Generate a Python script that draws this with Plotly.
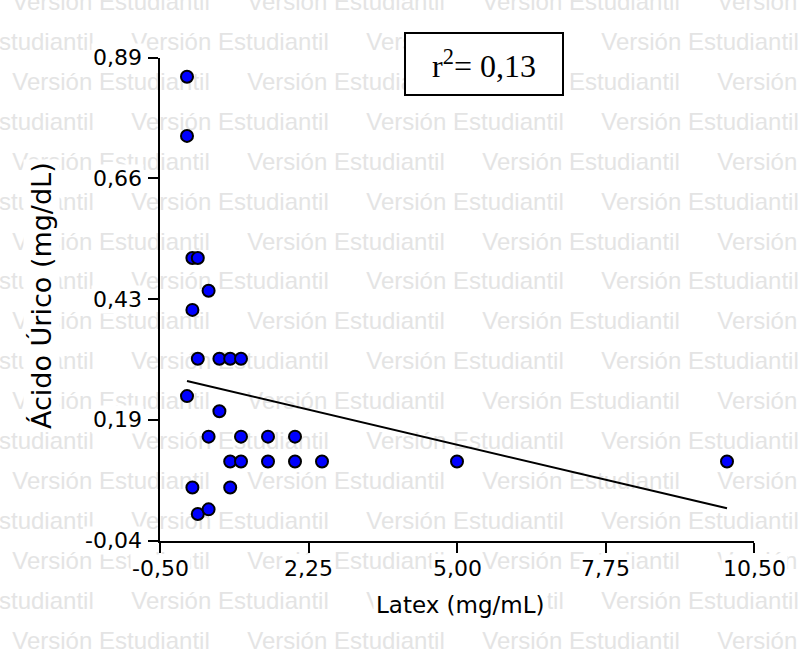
import plotly.graph_objects as go

W, H = 798, 653

# puntos (Latex mg/mL, Ácido Úrico mg/dL)
latex = [0.0, 0.0, 0.1, 0.2, 0.4, 0.1, 0.2, 0.6, 0.8, 1.0, 0.0, 0.6, 0.4, 1.0,
         1.5, 2.0, 0.8, 1.0, 1.5, 2.0, 2.5, 5.0, 10.0, 0.1, 0.8, 0.2, 0.4]
acido_urico = [0.853, 0.739, 0.504, 0.504, 0.441, 0.404, 0.31, 0.31, 0.31, 0.31,
               0.238, 0.209, 0.16, 0.16, 0.16, 0.16, 0.112, 0.112, 0.112, 0.112,
               0.112, 0.112, 0.112, 0.062, 0.062, 0.011, 0.02]

# recta de regresión (extremos)
fit_x = [0.0, 10.0]
fit_y = [0.267, 0.022]

x_tickvals = [-0.5, 2.25, 5.0, 7.75, 10.5]
x_ticktext = ["-0,50", "2,25", "5,00", "7,75", "10,50"]
y_tickvals = [-0.04, 0.1925, 0.425, 0.6575, 0.89]
y_ticktext = ["-0,04", "0,19", "0,43", "0,66", "0,89"]

r2_text = "r<sup>2</sup>= 0,13"
x_title = "Latex (mg/mL)"
y_title = "Ácido Úrico (mg/dL)"
watermark = "Versión Estudiantil"

FONT = "DejaVu Sans, Arial, sans-serif"
WM_FONT = "Liberation Sans, Arial, sans-serif"

# plot area in page pixels
X0, X1 = 160, 754
Y_TOP, Y_BOT = 57.5, 540.5

fig = go.Figure()

# watermark grid on a full-page pixel axis (drawn below the data subplot)
wm_x, wm_y = [], []
for k in range(17):
    y = 4.1 + 39.9 * k
    start = 12 if k % 2 == 0 else -104
    for j in range(5):
        wm_x.append(start + 235 * j + 99)
        wm_y.append(y)
fig.add_trace(go.Scatter(
    x=wm_x, y=wm_y, mode="text", text=[watermark] * len(wm_x),
    textposition="middle center",
    textfont=dict(family=WM_FONT, size=24, color="#e4e4e4"),
    hoverinfo="skip", showlegend=False, xaxis="x", yaxis="y", cliponaxis=True,
))

fig.add_trace(go.Scatter(
    x=fit_x, y=fit_y, mode="lines",
    line=dict(color="black", width=2),
    showlegend=False, xaxis="x2", yaxis="y2",
))
fig.add_trace(go.Scatter(
    x=latex, y=acido_urico, mode="markers",
    marker=dict(color="#0000ff", size=12, line=dict(color="black", width=2)),
    showlegend=False, xaxis="x2", yaxis="y2", cliponaxis=False,
))

axis_common = dict(showgrid=False, zeroline=False, showline=True, linecolor="black",
                   linewidth=2, ticks="outside", ticklen=10, tickwidth=2,
                   tickcolor="black", showticklabels=False, fixedrange=True)

fig.update_layout(
    width=W, height=H,
    margin=dict(l=0, r=0, t=0, b=0),
    paper_bgcolor="white", plot_bgcolor="rgba(0,0,0,0)",
    xaxis=dict(domain=[0, 1], range=[0, W], visible=False, fixedrange=True),
    yaxis=dict(domain=[0, 1], range=[H, 0], visible=False, fixedrange=True),
    xaxis2=dict(domain=[X0 / W, X1 / W], range=[-0.5, 10.5], anchor="y2",
                tickvals=x_tickvals, **axis_common),
    yaxis2=dict(domain=[1 - Y_BOT / H, 1 - Y_TOP / H], range=[-0.04, 0.89],
                anchor="x2", tickvals=y_tickvals, **axis_common),
    showlegend=False,
)

label_font = dict(family=FONT, size=22, color="black")
for v, t in zip(x_tickvals, x_ticktext):
    fig.add_annotation(x=v, xref="x2", y=568, yref="y", text=t, showarrow=False,
                       xanchor="center", yanchor="middle", font=label_font,
                       bgcolor="white", borderpad=1)
for v, t in zip(y_tickvals, y_ticktext):
    fig.add_annotation(x=144, xref="x", y=v, yref="y2", text=t, showarrow=False,
                       xanchor="right", yanchor="middle", font=label_font,
                       bgcolor="white", borderpad=1)

fig.add_annotation(x=460, xref="x", y=605, yref="y", text=x_title, showarrow=False,
                   font=dict(family=FONT, size=23, color="black"),
                   bgcolor="white", borderpad=2)
fig.add_annotation(x=41, xref="x", y=296, yref="y", text=y_title, showarrow=False,
                   textangle=-90, font=dict(family=FONT, size=27, color="black"),
                   bgcolor="white", borderpad=2)

fig.add_annotation(x=484, xref="x", y=64, yref="y", text=r2_text, showarrow=False,
                   font=dict(family="Liberation Serif, Times New Roman, serif", size=32,
                             color="black"),
                   bgcolor="white", bordercolor="black", borderwidth=2,
                   width=154, height=58)

fig.write_html("out.html", config={"displayModeBar": False},
               post_script="document.body.style.margin='0px';")
